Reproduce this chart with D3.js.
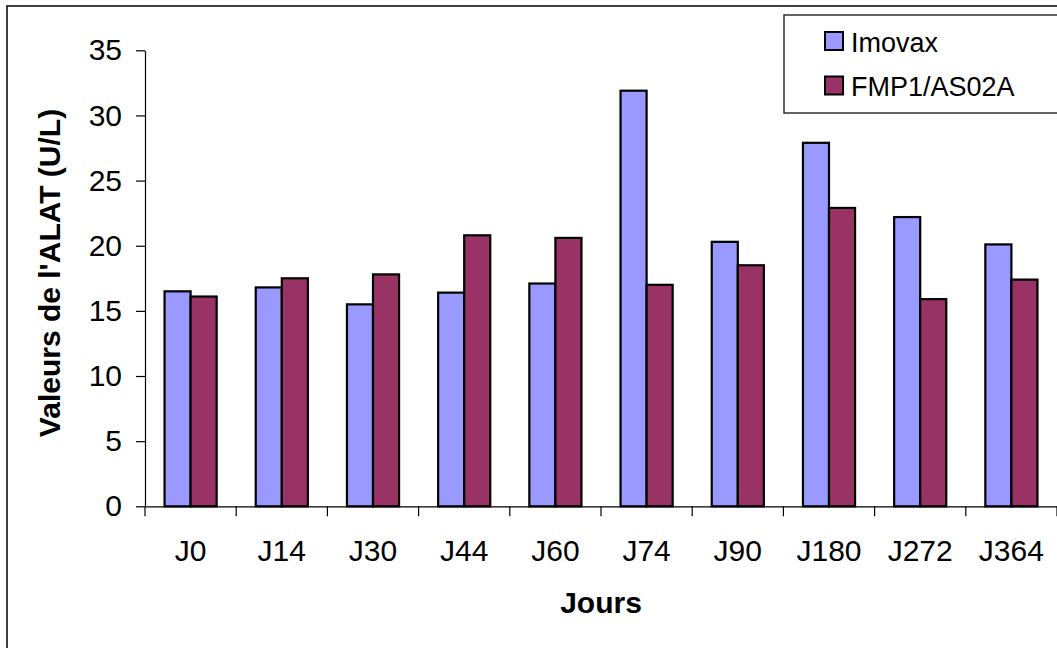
<!DOCTYPE html>
<html>
<head>
<meta charset="utf-8">
<script src="https://cdn.jsdelivr.net/npm/d3@7"></script>
<style>
  html, body { margin: 0; padding: 0; background: #fff; }
  svg { display: block; font-family: "Liberation Sans", Arial, sans-serif; }
</style>
</head>
<body>
<svg id="chart" width="1057" height="648"></svg>
<script>
// ALAT values (U/L) per visit day
const categories = ["J0", "J14", "J30", "J44", "J60", "J74", "J90", "J180", "J272", "J364"];
const imovax = [16.5, 16.8, 15.5, 16.4, 17.1, 31.9, 20.3, 27.9, 22.2, 20.1];
const fmp1 = [16.1, 17.5, 17.8, 20.8, 20.6, 17.0, 18.5, 22.9, 15.9, 17.4];
const seriesNames = ["Imovax", "FMP1/AS02A"];
const seriesColors = ["#9999FF", "#993366"];
const yTicks = [0, 5, 10, 15, 20, 25, 30, 35];

const svg = d3.select("#chart");

// Outer chart frame (right/bottom edges run off the canvas)
svg.append("rect")
  .attr("x", 7).attr("y", 6)
  .attr("width", 1100).attr("height", 700)
  .attr("fill", "none").attr("stroke", "#000").attr("stroke-width", 1.5);

const plot = { left: 145, right: 1057, top: 50.3, bottom: 506.3 };

const x = d3.scaleBand().domain(categories).range([plot.left, plot.right]).padding(0);
const y = d3.scaleLinear().domain([0, 35]).range([plot.bottom, plot.top]);

// Two bars per category, gap width 150%
const barW = x.bandwidth() / 3.5;
const groupOffset = barW * 0.75;

const data = categories.map((c, i) => ({ c, vals: [imovax[i], fmp1[i]] }));

const groups = svg.append("g").selectAll("g")
  .data(data).join("g")
  .attr("transform", d => `translate(${x(d.c) + groupOffset},0)`);

groups.selectAll("rect")
  .data(d => d.vals.map((v, k) => ({ v, k })))
  .join("rect")
  .attr("x", d => d.k * barW)
  .attr("y", d => y(d.v))
  .attr("width", barW)
  .attr("height", d => y(0) - y(d.v))
  .attr("fill", d => seriesColors[d.k])
  .attr("stroke", "#000")
  .attr("stroke-width", 2.2);

// Y axis
const yAxis = svg.append("g")
  .attr("transform", `translate(${plot.left},0)`)
  .call(d3.axisLeft(y).tickValues(yTicks).tickSize(9).tickPadding(14).tickSizeOuter(0));
yAxis.select(".domain").attr("stroke", "#000").attr("stroke-width", 1.2);
yAxis.selectAll(".tick line").attr("stroke", "#000").attr("stroke-width", 1.2);
yAxis.selectAll(".tick text")
  .attr("font-size", 30).attr("font-family", "Liberation Sans, Arial, sans-serif")
  .attr("fill", "#000");

// X axis: labels centred on categories, ticks on category boundaries
const xAxis = svg.append("g")
  .attr("transform", `translate(0,${plot.bottom})`)
  .call(d3.axisBottom(x).tickSize(0).tickPadding(33).tickSizeOuter(0));
xAxis.select(".domain").attr("stroke", "#000").attr("stroke-width", 1.2);
xAxis.selectAll(".tick text")
  .attr("font-size", 30).attr("font-family", "Liberation Sans, Arial, sans-serif")
  .attr("fill", "#000");

const edges = categories.map(c => x(c)).concat([plot.right]);
svg.append("g").selectAll("line")
  .data(edges).join("line")
  .attr("x1", d => d).attr("x2", d => d)
  .attr("y1", plot.bottom).attr("y2", plot.bottom + 10)
  .attr("stroke", "#000").attr("stroke-width", 1.2);

// Axis titles
svg.append("text")
  .attr("transform", `translate(60,273) rotate(-90)`)
  .attr("text-anchor", "middle")
  .attr("font-size", 30).attr("font-weight", "bold")
  .text("Valeurs de l'ALAT (U/L)");

svg.append("text")
  .attr("x", (plot.left + plot.right) / 2).attr("y", 613)
  .attr("text-anchor", "middle")
  .attr("font-size", 30).attr("font-weight", "bold")
  .text("Jours");

// Legend
const legend = svg.append("g");
legend.append("rect")
  .attr("x", 784).attr("y", 15).attr("width", 300).attr("height", 98)
  .attr("fill", "#fff").attr("stroke", "#222").attr("stroke-width", 1.4);

const items = legend.selectAll("g.item")
  .data(seriesNames).join("g").attr("class", "item")
  .attr("transform", (d, i) => `translate(825,${32 + i * 44.5})`);
items.append("rect")
  .attr("width", 18).attr("height", 18)
  .attr("fill", (d, i) => seriesColors[i])
  .attr("stroke", "#000").attr("stroke-width", 2);
items.append("text")
  .attr("x", 26).attr("y", 19.5)
  .attr("font-size", 27)
  .text(d => d);
</script>
</body>
</html>
